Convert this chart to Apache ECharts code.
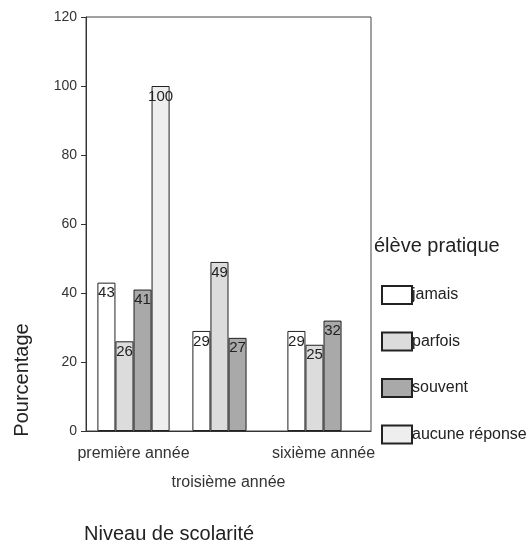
<!DOCTYPE html>
<html>
<head>
<meta charset="utf-8">
<script src="https://cdn.jsdelivr.net/npm/echarts@6/dist/echarts.min.js"></script>
<style>
  html, body { margin: 0; padding: 0; background: #fff; }
  #chart { width: 530px; height: 545px; }
</style>
</head>
<body>
<div id="chart"></div>
<script>
// Grades and response shares (%)
const categories = ['première année', 'troisième année', 'sixième année'];
const jamais = [43, 29, 29];
const parfois = [26, 49, 25];
const souvent = [41, 27, 32];
const aucuneReponse = [100, null, null];
const yTicks = [0, 20, 40, 60, 80, 100, 120];

const font = 'Liberation Sans, Arial, sans-serif';
const chart = echarts.init(document.getElementById('chart'));

function barSeries(name, data, color) {
  return {
    name: name,
    type: 'bar',
    data: data,
    barGap: '0%',
    barCategoryGap: '24%',
    itemStyle: { color: color, borderColor: '#222', borderWidth: 1 },
    label: {
      show: true,
      position: 'insideTop',
      distance: 3,
      color: '#222',
      fontSize: 15,
      fontFamily: font
    }
  };
}

chart.setOption({
  animation: false,
  backgroundColor: '#fff',
  grid: {
    left: 86, right: 159, top: 17, bottom: 114,
    show: true, borderColor: '#444', borderWidth: 1
  },
  xAxis: {
    type: 'category',
    data: categories,
    axisLine: { lineStyle: { color: '#333' } },
    axisTick: { show: false },
    axisLabel: {
      interval: 0,
      color: '#333',
      fontSize: 16,
      fontFamily: font,
      lineHeight: 29,
      margin: 8,
      formatter: (v, i) => (i === 1 ? '\n' + v : v)
    }
  },
  yAxis: {
    type: 'value',
    min: yTicks[0],
    max: yTicks[yTicks.length - 1],
    interval: 20,
    axisLine: { show: true, lineStyle: { color: '#333' } },
    axisTick: { show: true, length: 5, lineStyle: { color: '#333' } },
    splitLine: { show: false },
    axisLabel: { color: '#333', fontSize: 14, fontFamily: font, margin: 9 }
  },
  legend: {
    orient: 'vertical',
    left: 376,
    top: 280,
    itemWidth: 30,
    itemHeight: 18,
    itemGap: 26.5,
    icon: 'rect',
    textStyle: { color: '#222', fontSize: 16, fontFamily: font, padding: [0, 0, 0, -5] },
    data: ['jamais', 'parfois', 'souvent', 'aucune réponse']
  },
  graphic: [
    {
      type: 'text', left: 374, top: 236,
      style: { text: 'élève pratique', fill: '#222', font: '20px ' + font }
    },
    {
      type: 'text', x: 12, y: 380, rotation: Math.PI / 2,
      style: { text: 'Pourcentage', fill: '#222', font: '20px ' + font, align: 'center', verticalAlign: 'top' }
    },
    {
      type: 'text', left: 84, top: 524,
      style: { text: 'Niveau de scolarité', fill: '#222', font: '20px ' + font }
    }
  ],
  series: [
    barSeries('jamais', jamais, '#ffffff'),
    barSeries('parfois', parfois, '#dcdcdc'),
    barSeries('souvent', souvent, '#a9a9a9'),
    barSeries('aucune réponse', aucuneReponse, '#eeeeee')
  ]
});
</script>
</body>
</html>
